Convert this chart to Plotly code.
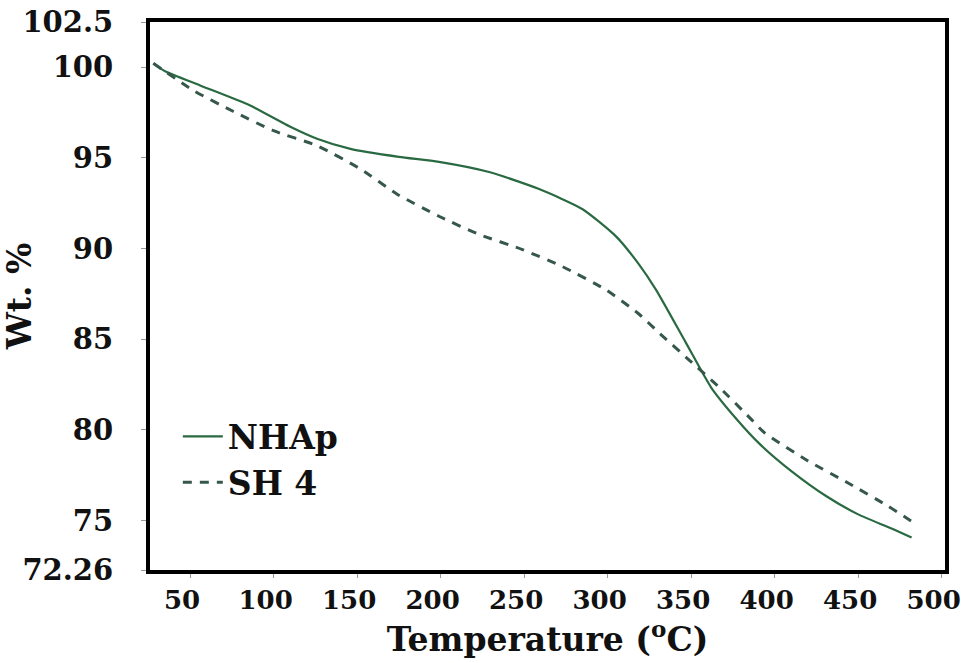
import plotly.graph_objects as go

# NHAp (solid)
nhap_t = [28, 35, 56, 86, 110, 126, 146, 175, 199, 229, 259, 285, 305, 318, 329, 347, 362, 377, 391, 410, 431, 450, 470, 482]
nhap_w = [100.2, 99.78, 99.0, 97.89, 96.72, 96.06, 95.5, 95.06, 94.78, 94.22, 93.28, 92.17, 90.67, 89.22, 87.72, 84.78, 82.33, 80.61, 79.22, 77.72, 76.33, 75.33, 74.55, 74.05]

# SH 4 (dashed)
sh4_t = [28, 52, 76, 100, 126, 152, 174, 199, 223, 249, 273, 299, 318, 331, 349, 367, 385, 394, 420, 444, 468, 482]
sh4_w = [100.22, 98.72, 97.56, 96.5, 95.67, 94.39, 93.0, 91.78, 90.78, 89.94, 89.0, 87.72, 86.44, 85.33, 83.83, 82.33, 80.67, 79.83, 78.28, 77.06, 75.78, 74.94]

x_ticks = [50, 100, 150, 200, 250, 300, 350, 400, 450, 500]
y_ticks = [72.26, 75, 80, 85, 90, 95, 100, 102.5]
y_ticktext = ["72.26", "75", "80", "85", "90", "95", "100", "102.5"]

FONT = "DejaVu Serif"
TXT = "#111111"

fig = go.Figure()
fig.add_trace(go.Scatter(x=nhap_t, y=nhap_w, mode="lines", name="NHAp",
                         line=dict(color="#2a6a42", width=2.2, shape="spline", smoothing=0.6)))
fig.add_trace(go.Scatter(x=sh4_t, y=sh4_w, mode="lines", name="SH 4",
                         line=dict(color="#36584a", width=3, dash="9px,8px", shape="spline", smoothing=0.6)))

fig.update_layout(
    width=961, height=663,
    margin=dict(l=150, r=16, t=22, b=93),
    paper_bgcolor="white", plot_bgcolor="white",
    font=dict(family=FONT, color=TXT),
    showlegend=True,
    legend=dict(x=0.035, y=0.295, xanchor="left", yanchor="top",
                bgcolor="rgba(0,0,0,0)", font=dict(family=FONT, size=33, color=TXT, weight="bold"),
                tracegroupgap=0, itemwidth=40),
    xaxis=dict(range=[26, 502], tickvals=x_ticks, ticks="outside", ticklen=4, tickcolor="#999999",
               showline=True, linecolor="black", linewidth=4, mirror=True, showgrid=False, zeroline=False,
               ticklabeloverflow="allow", automargin=False, ticklabelshift=-8,
               tickfont=dict(family=FONT, size=26, color=TXT, weight="bold"),
               title=dict(text="Temperature (<sup>o</sup>C)", font=dict(family=FONT, size=33, color=TXT, weight="bold"), standoff=10)),
    yaxis=dict(range=[72.26, 102.5], tickvals=y_ticks, ticktext=y_ticktext, ticks="outside", ticklen=5, tickcolor="#999999",
               showline=True, linecolor="black", linewidth=4, mirror=True, showgrid=False, zeroline=False,
               ticklabeloverflow="allow", ticklabelstandoff=22, automargin=False,
               tickfont=dict(family=FONT, size=29, color=TXT, weight="bold"),
               title=dict(text="Wt. %", font=dict(family=FONT, size=33, color=TXT, weight="bold"), standoff=3)),
)

fig.write_html("out.html")
